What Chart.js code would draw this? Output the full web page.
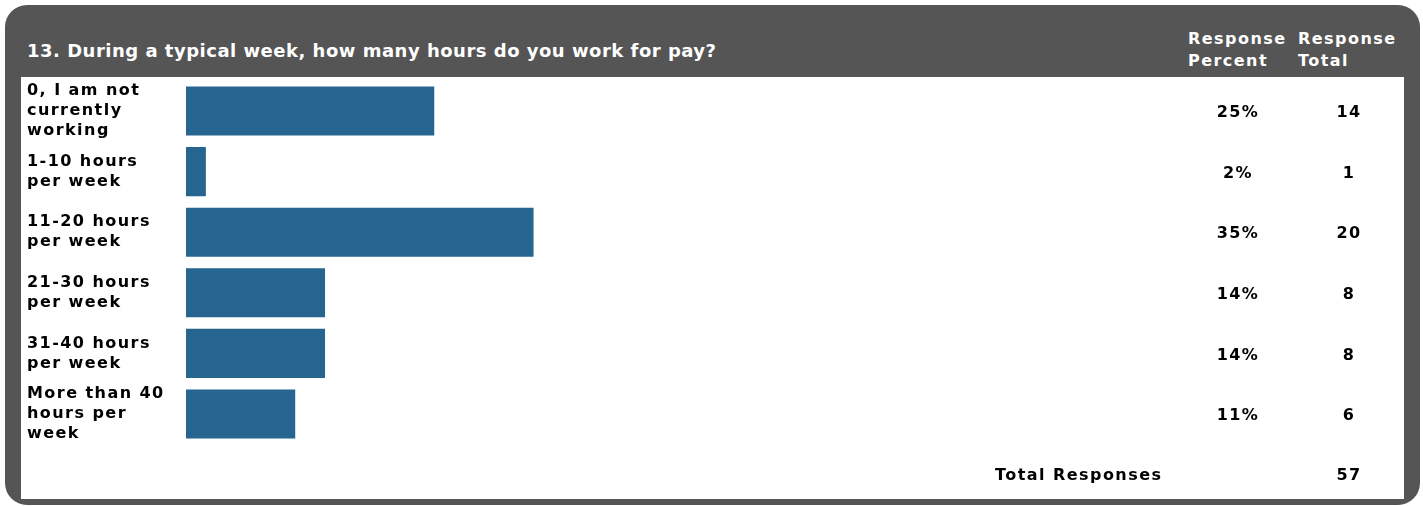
<!DOCTYPE html>
<html>
<head>
<meta charset="utf-8">
<script src="https://cdn.jsdelivr.net/npm/chart.js@4.4.0/dist/chart.umd.min.js"></script>
<style>
  body { margin: 0; background: #fff; }
  #wrap { position: relative; width: 1423px; height: 506px; font-family: "DejaVu Sans", Verdana, sans-serif; font-weight: bold; }
  #frame { position: absolute; left: 5px; top: 5px; width: 1415px; height: 500px; background: #555555; border-radius: 22px; }
  #panel { position: absolute; left: 21px; top: 77px; width: 1383px; height: 422px; background: #fff; }
  #title { position: absolute; left: 27px; top: 42px; font-size: 18px; line-height: 18px; letter-spacing: 0.5px; color: #fff; white-space: nowrap; }
  .head { position: absolute; top: 28px; font-size: 16px; line-height: 22px; letter-spacing: 1.45px; color: #fff; }
  #chartbox { position: absolute; left: 0; top: 0; width: 1423px; height: 506px; }
</style>
</head>
<body>
<div id="wrap">
  <div id="frame"></div>
  <div id="panel"></div>
  <div id="title">13. During a typical week, how many hours do you work for pay?</div>
  <div class="head" style="left:1188px">Response<br>Percent</div>
  <div class="head" style="left:1298px">Response<br>Total</div>
  <div id="chartbox"><canvas id="myChart"></canvas></div>
</div>
<script>
var categories = [
    ["0, I am not", "currently", "working"],
    ["1-10 hours", "per week"],
    ["11-20 hours", "per week"],
    ["21-30 hours", "per week"],
    ["31-40 hours", "per week"],
    ["More than 40", "hours per", "week"]
];
var percents = [25, 2, 35, 14, 14, 11];
var totals = [14, 1, 20, 8, 8, 6];
var totalResponses = 57;

// percent / total columns and the footer row
var columnsPlugin = {
    id: 'columns',
    beforeDraw: function(chart) {
        chart.ctx.letterSpacing = '1.45px';
    },
    afterDraw: function(chart) {
        var ctx = chart.ctx;
        var y = chart.scales.y;
        ctx.save();
        ctx.letterSpacing = '1.45px';
        ctx.font = 'bold 16px "DejaVu Sans"';
        ctx.fillStyle = '#000';
        ctx.textBaseline = 'middle';
        ctx.textAlign = 'center';
        for (var i = 0; i < percents.length; i++) {
            var py = y.getPixelForValue(i) + 2;
            ctx.fillText(percents[i] + '%', 1238, py);
            ctx.fillText(String(totals[i]), 1349, py);
        }
        var fy = chart.chartArea.bottom + 32;
        ctx.fillText(String(totalResponses), 1349, fy);
        ctx.textAlign = 'left';
        ctx.fillText('Total Responses', 995, fy);
        ctx.restore();
    }
};

var ctx = document.getElementById('myChart');

var barChart = new Chart(ctx, {
    type: 'bar',
    data: {
        labels: categories,
        datasets: [{
            data: percents,
            backgroundColor: '#26658f',
            barPercentage: 0.81,
            categoryPercentage: 1
        }]
    },
    options: {
        indexAxis: 'y',
        responsive: true,
        maintainAspectRatio: false,
        animation: false,
        layout: {
            padding: { left: 27, right: 244, top: 80.7, bottom: 61.7 }
        },
        scales: {
            x: { min: 0, max: 100, display: false },
            y: {
                grid: { display: false },
                border: { display: false },
                ticks: {
                    autoSkip: false,
                    crossAlign: 'far',
                    color: '#000',
                    font: { family: '"DejaVu Sans"', size: 16, weight: 'bold', lineHeight: 1.25 }
                },
                afterFit: function(scale) {
                    scale.width = 159;
                }
            }
        },
        plugins: {
            legend: { display: false },
            tooltip: { enabled: false }
        }
    },
    plugins: [columnsPlugin]
});
</script>
</body>
</html>
